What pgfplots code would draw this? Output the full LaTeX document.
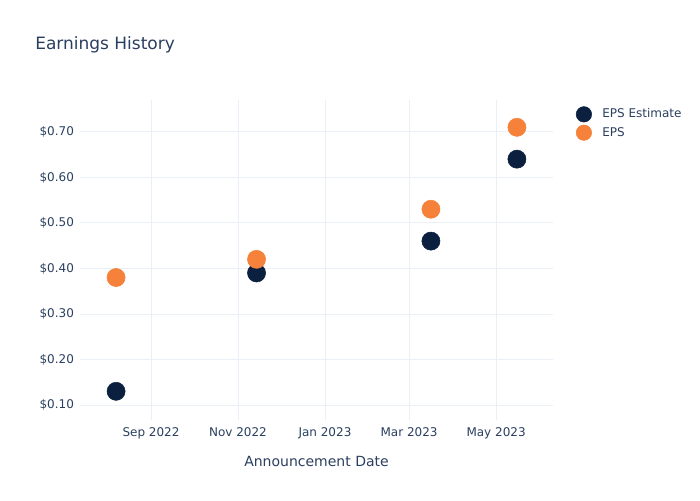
\documentclass[border=0pt]{standalone}
\usepackage{pgfplots}
\pgfplotsset{compat=1.18}
\usepackage{fontspec}
\setmainfont{DejaVu Sans}
\definecolor{txt}{HTML}{2A3F5F}
\definecolor{gridc}{HTML}{EBF0F8}
\definecolor{navy}{HTML}{0B1F3F}
\definecolor{orng}{HTML}{F5813A}
\begin{document}
\begin{tikzpicture}
\path[use as bounding box] (0,0) rectangle (525pt,375pt);
\node[anchor=base west, font=\fontsize{12.75pt}{14pt}\selectfont, text=txt, inner sep=0pt] at (26.25pt,337.5pt) {Earnings History};
\begin{axis}[
  at={(60pt,60pt)}, anchor=south west,
  scale only axis, width=354.75pt, height=240pt,
  xmin=-49.8, xmax=281.9, ymin=0.067, ymax=0.770,
  axis line style={draw=none},
  major tick length=0pt,
  grid=major, major grid style={gridc, line width=0.6pt},
  xtick={0,61,122,181,242},
  xticklabels={Sep 2022,Nov 2022,Jan 2023,Mar 2023,May 2023},
  ytick={0.1,0.2,0.3,0.4,0.5,0.6,0.7},
  yticklabels={\$0.10,\$0.20,\$0.30,\$0.40,\$0.50,\$0.60,\$0.70},
  ticklabel style={font=\fontsize{9pt}{10pt}\selectfont, text=txt},
  xticklabel style={yshift=-2pt},
  yticklabel style={xshift=-1pt},
  xlabel={Announcement Date},
  xlabel style={font=\fontsize{10.5pt}{12pt}\selectfont, text=txt, yshift=-6pt},
  legend style={at={(1.04,0.99)}, anchor=north west, draw=none, fill=none,
    font=\fontsize{9pt}{10pt}\selectfont, text=txt, row sep=1.5pt,
    nodes={inner xsep=8pt}},
  legend image code/.code={\draw[mark size=5.8pt] plot coordinates {(0.3cm,0cm)};},
  legend cell align=left,
  clip=false,
]
\addplot[only marks, mark=*, mark size=6.8pt, color=navy] coordinates {
 (-24.5,0.13) (74,0.39) (196.3,0.46) (256.6,0.64)};
\addlegendentry{EPS Estimate}
\addplot[only marks, mark=*, mark size=6.8pt, color=orng] coordinates {
 (-24.5,0.38) (74,0.42) (196.3,0.53) (256.6,0.71)};
\addlegendentry{EPS}
\end{axis}
\end{tikzpicture}
\end{document}
